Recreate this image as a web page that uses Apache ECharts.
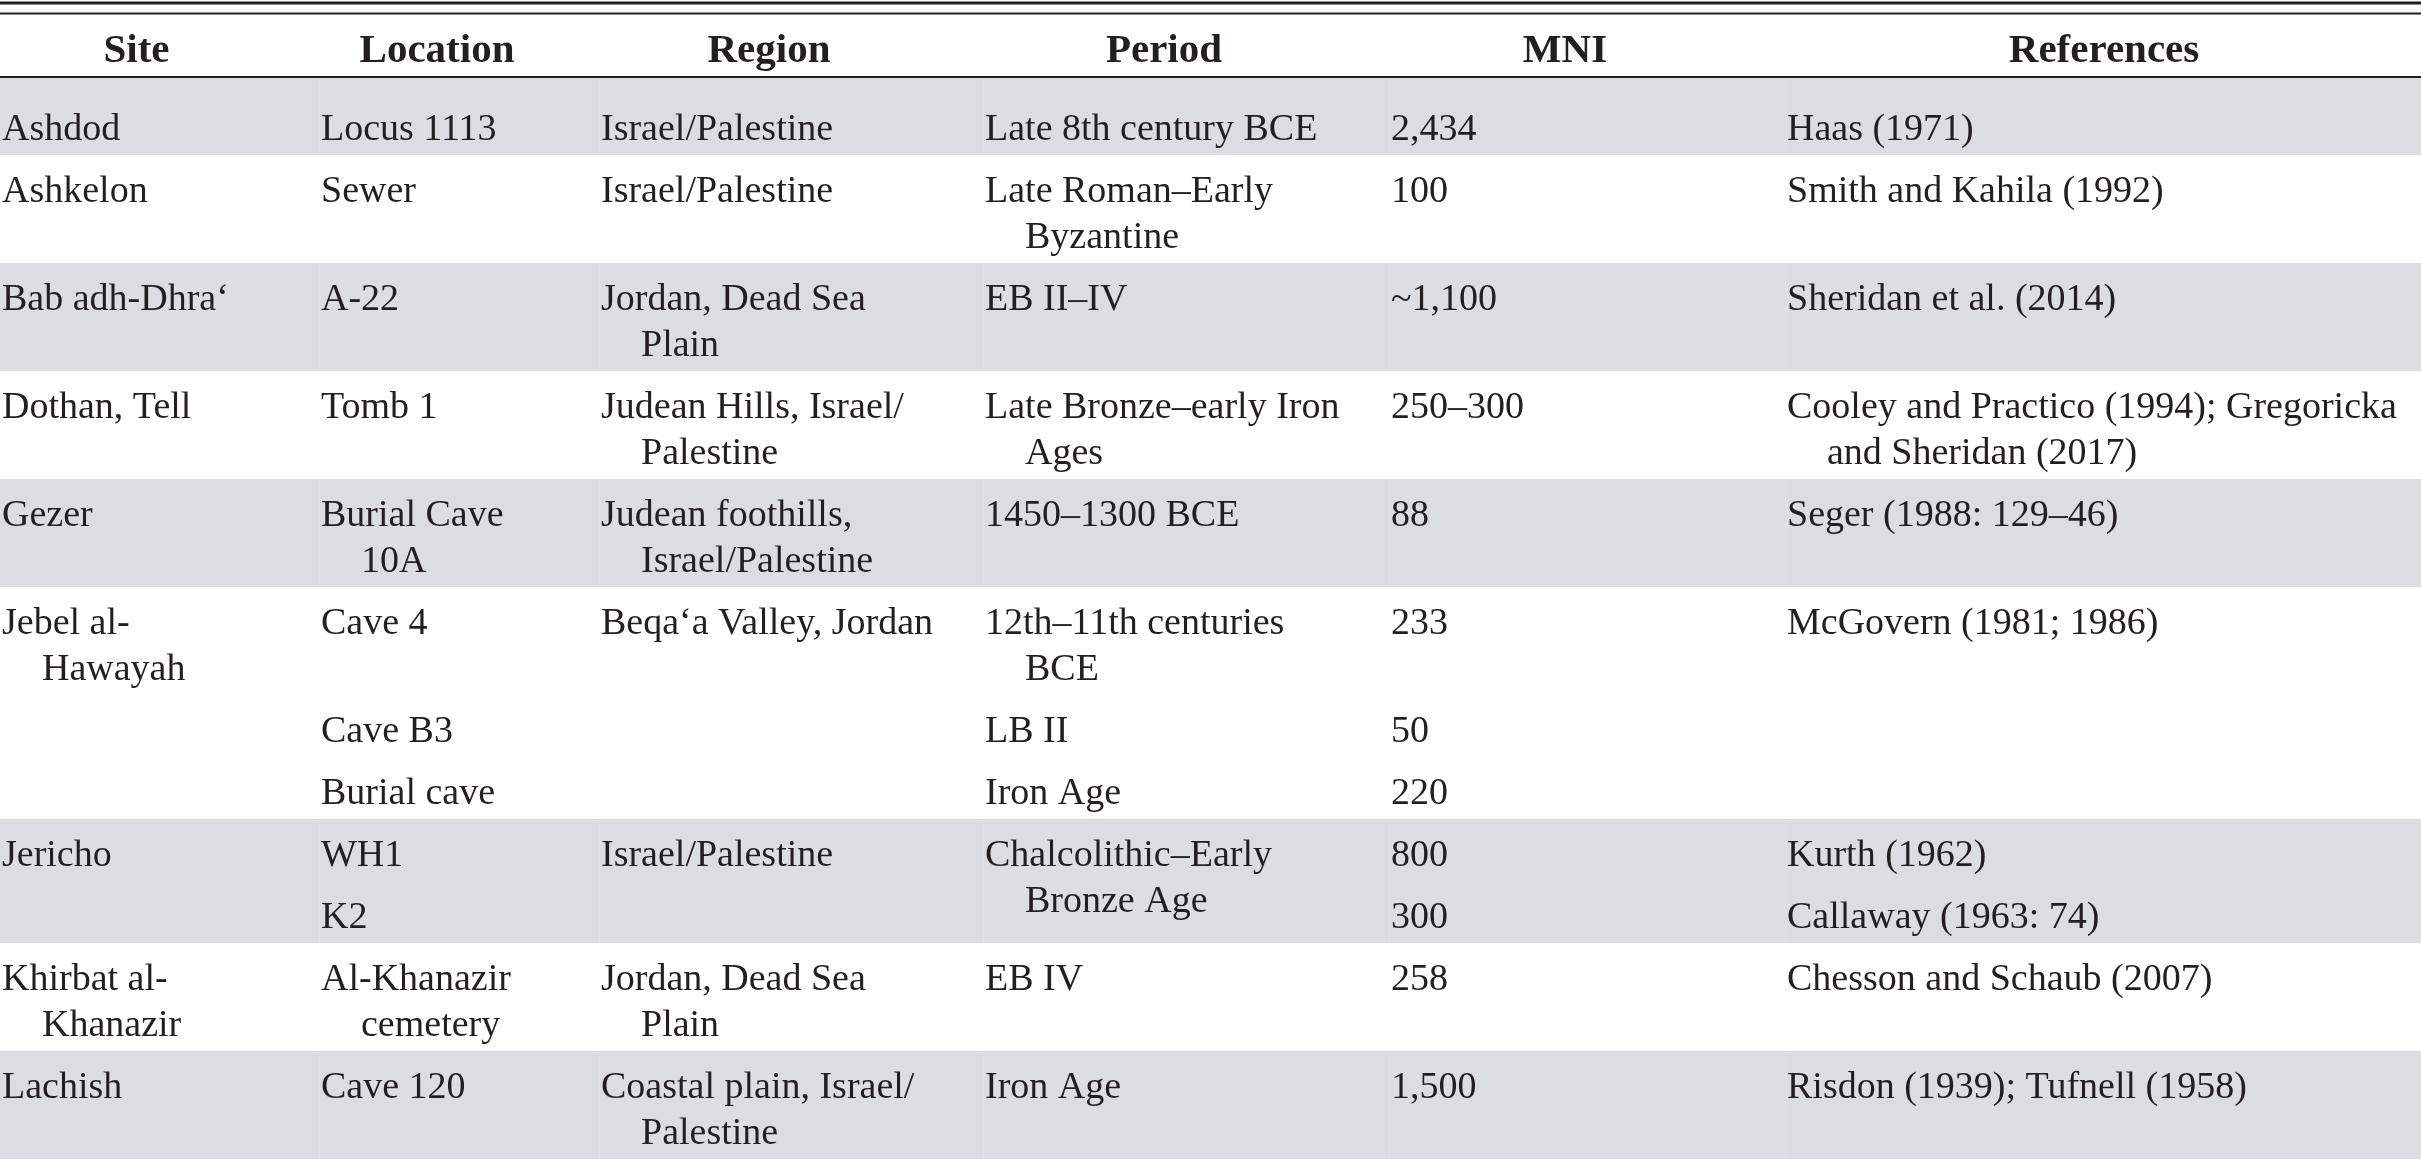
<!DOCTYPE html>
<html>
<head>
<meta charset="utf-8">
<script src="https://cdn.jsdelivr.net/npm/echarts@6/dist/echarts.min.js"></script>
<style>
  html, body { margin: 0; padding: 0; background: #fff; }
  #CajaTabla { width: 2421px; height: 1162px; }
</style>
</head>
<body>
<div id="CajaTabla"></div>
<script>
// table content, one entry per site; sub-rows are inner lists, manual line breaks as printed
var headers = ['Site', 'Location', 'Region', 'Period', 'MNI', 'References'];
var sites = ['Ashdod', 'Ashkelon', 'Bab adh-Dhra‘', 'Dothan, Tell', 'Gezer', 'Jebel al-\nHawayah', 'Jericho', 'Khirbat al-\nKhanazir', 'Lachish'];
var locations = [['Locus 1113'], ['Sewer'], ['A-22'], ['Tomb 1'], ['Burial Cave\n10A'], ['Cave 4', 'Cave B3', 'Burial cave'], ['WH1', 'K2'], ['Al-Khanazir\ncemetery'], ['Cave 120']];
var regions = ['Israel/Palestine', 'Israel/Palestine', 'Jordan, Dead Sea\nPlain', 'Judean Hills, Israel/\nPalestine', 'Judean foothills,\nIsrael/Palestine', 'Beqa‘a Valley, Jordan', 'Israel/Palestine', 'Jordan, Dead Sea\nPlain', 'Coastal plain, Israel/\nPalestine'];
var periods = [['Late 8th century BCE'], ['Late Roman–Early\nByzantine'], ['EB II–IV'], ['Late Bronze–early Iron\nAges'], ['1450–1300 BCE'], ['12th–11th centuries\nBCE', 'LB II', 'Iron Age'], ['Chalcolithic–Early\nBronze Age'], ['EB IV'], ['Iron Age']];
var mni = [['2,434'], ['100'], ['~1,100'], ['250–300'], ['88'], ['233', '50', '220'], ['800', '300'], ['258'], ['1,500']];
var references = [['Haas (1971)'], ['Smith and Kahila (1992)'], ['Sheridan et al. (2014)'], ['Cooley and Practico (1994); Gregoricka\nand Sheridan (2017)'], ['Seger (1988: 129–46)'], ['McGovern (1981; 1986)'], ['Kurth (1962)', 'Callaway (1963: 74)'], ['Chesson and Schaub (2007)'], ['Risdon (1939); Tufnell (1958)']];

document.addEventListener('DOMContentLoaded', function () {
    var W = 2421, H = 1162;
    var colLeft = [2, 321, 601, 985, 1391, 1787];
    var gutter = 48;
    var fontSize = 38, headFont = 41;
    var lineGap = 46, pad = 16, firstBase = 45, indent = 40;
    var headerRule = 77, bodyTop = 93, headerBase = 60;
    var ink = '#231f20', band = '#dcdde0';

    // every column as list-of-sub-rows so the layout can treat them alike
    var columns = [
        sites.map(function (s) { return [s]; }),
        locations,
        regions.map(function (s) { return [s]; }),
        periods, mni, references
    ];

    function nLines(t) { return t.split('\n').length; }

    var textLines = [];
    var bands = [];

    function putText(col, top, text) {
        text.split('\n').forEach(function (ln, j) {
            textLines.push({
                x: colLeft[col] + (j > 0 ? indent : 0),
                y: top + firstBase + j * lineGap,
                text: ln, bold: false, align: 'left'
            });
        });
    }

    headers.forEach(function (h, c) {
        var right = c < colLeft.length - 1 ? colLeft[c + 1] - gutter : W;
        var left = c === 0 ? 0 : colLeft[c];
        textLines.push({ x: (left + right) / 2, y: headerBase, text: h, bold: true, align: 'center' });
    });

    var y = bodyTop;
    sites.forEach(function (site, i) {
        var nSub = locations[i].length;
        var rowTop = y;
        for (var k = 0; k < nSub; k++) {
            var lines = 1;
            columns.forEach(function (col) {
                if (col[i].length === nSub) lines = Math.max(lines, nLines(col[i][k]));
            });
            columns.forEach(function (col, c) {
                if (col[i].length === nSub) putText(c, y, col[i][k]);
            });
            y += pad + lines * lineGap;
        }
        columns.forEach(function (col, c) {
            if (col[i].length !== nSub) putText(c, rowTop, col[i][0]);
        });
        bands.push({ top: i === 0 ? headerRule : rowTop, bottom: y, grey: i % 2 === 0 });
    });

    var rules = [
        { y: 3, h: 3 },
        { y: 13.5, h: 2 },
        { y: headerRule, h: 2 }
    ];

    var ChartDOM = document.getElementById('CajaTabla');
    var myChart = echarts.init(ChartDOM);

    var option = {
        animation: false,
        grid: { left: 0, right: 0, top: 0, bottom: 0 },
        xAxis: { type: 'value', min: 0, max: W, show: false },
        yAxis: { type: 'value', min: 0, max: H, inverse: true, show: false },
        series: [
            {
                // row shading
                type: 'custom',
                silent: true,
                data: bands.map(function (b) { return [b.top, b.bottom]; }),
                renderItem: function (params, api) {
                    var b = bands[params.dataIndex];
                    if (!b.grey) return;
                    var p0 = api.coord([0, b.top]);
                    var p1 = api.coord([W, b.bottom]);
                    var children = [{
                        type: 'rect',
                        shape: { x: p0[0], y: p0[1], width: p1[0] - p0[0], height: p1[1] - p0[1] },
                        style: { fill: band }
                    }];
                    // faint seams at the column edges
                    colLeft.slice(1).forEach(function (cx) {
                        var s = api.coord([cx - 2, b.top]);
                        children.push({
                            type: 'rect',
                            shape: { x: s[0], y: p0[1], width: 1, height: p1[1] - p0[1] },
                            style: { fill: '#e0e1e3' }
                        });
                    });
                    return { type: 'group', children: children };
                }
            },
            {
                // horizontal rules
                type: 'custom',
                silent: true,
                data: rules.map(function (r) { return [0, r.y]; }),
                renderItem: function (params, api) {
                    var r = rules[params.dataIndex];
                    var p0 = api.coord([0, r.y - r.h / 2]);
                    var p1 = api.coord([W, r.y + r.h / 2]);
                    return {
                        type: 'rect',
                        shape: { x: p0[0], y: p0[1], width: p1[0] - p0[0], height: p1[1] - p0[1] },
                        style: { fill: ink }
                    };
                }
            },
            {
                // cell text
                type: 'custom',
                silent: true,
                data: textLines.map(function (t) { return [t.x, t.y]; }),
                renderItem: function (params, api) {
                    var t = textLines[params.dataIndex];
                    var p = api.coord([api.value(0), api.value(1)]);
                    var fs = t.bold ? headFont : fontSize;
                    return {
                        type: 'text',
                        x: p[0],
                        y: p[1] - fs * 0.2,
                        style: {
                            text: t.text,
                            fill: ink,
                            font: (t.bold ? 'bold ' : '') + fs + 'px "Liberation Serif", "DejaVu Serif", serif',
                            textAlign: t.align,
                            textVerticalAlign: 'middle'
                        }
                    };
                }
            }
        ]
    };
    myChart.setOption(option);
    window.addEventListener('resize', function () {
        myChart.resize();
    });
});
</script>
</body>
</html>
